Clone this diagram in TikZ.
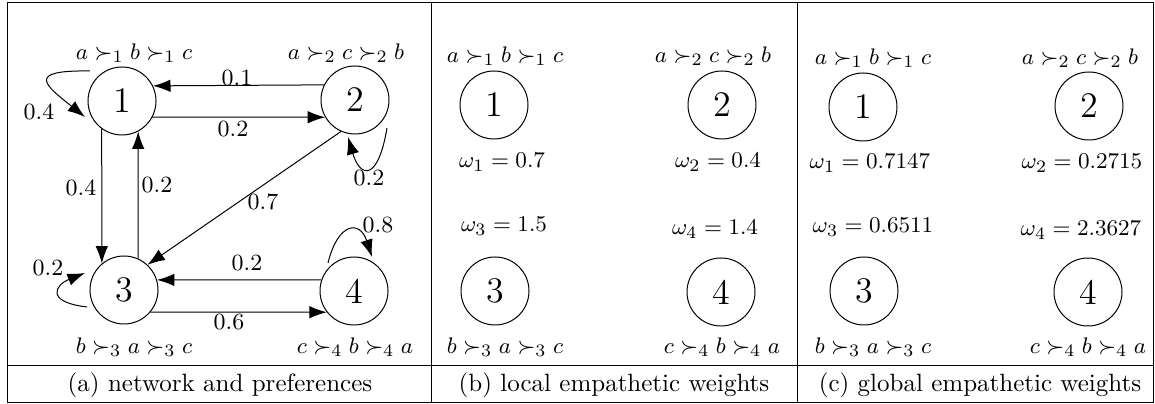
\documentclass[tikz,border=0pt]{standalone}
\usetikzlibrary{arrows.meta,calc}
\begin{document}
\begin{tikzpicture}[x=0.40pt,y=-0.40pt,
  vert/.style={circle,draw,line width=0.4pt,minimum size=27.2pt,inner sep=0pt,font=\Large},
  pref/.style={font=\fontsize{9.3}{11}\selectfont,inner sep=0pt},
  lbl/.style={font=\fontsize{9.3}{11}\selectfont,inner sep=0pt},
  captext/.style={font=\normalsize,inner sep=0pt},
  arr/.style={-{Latex[length=7pt,width=5pt]},line width=0.4pt},
  tablerule/.style={line width=0.4pt}]
\useasboundingbox (0,0) rectangle (1155,404);
% table
\draw[tablerule] (7.5,2.5) rectangle (1153.5,402.5);
\draw[tablerule] (7.5,366) -- (1153.5,366);
\draw[tablerule] (431,2.5) -- (431,402.5);
\draw[tablerule] (797,2.5) -- (797,402.5);
% ---------- panel (a)
\node[vert] (a1) at (122,101) {1};
\node[vert] (a2) at (355,100) {2};
\node[vert] (a3) at (124,290) {3};
\node[vert] (a4) at (354,291) {4};
\node[pref] (pa1) at (134,53) {$a\succ_1 b\succ_1 c$};
\node[pref] (pa2) at (346,53) {$a\succ_2 c\succ_2 b$};
\node[pref] (pa3) at (134,347) {$b\succ_3 a\succ_3 c$};
\node[pref] (pa4) at (355,347) {$c\succ_4 b\succ_4 a$};
\draw[arr] (a2.154) -- (a1.26);
\draw[arr] (a1.-28) -- (a2.-150);
\draw[arr] (a1.234) -- (a3.130);
\draw[arr] (a3.66) -- (a1.-62);
\draw[arr] (a2.246) -- (a3.47);
\draw[arr] (a4.161) -- (a3.17);
\draw[arr] (a3.-40) -- (a4.-142);
\draw[arr] ($(a1)+(-32,-30)$) .. controls ($(a1)+(-97,-31)$) and ($(a1)+(-77,-16)$) .. ($(a1)+(-37,16)$);
\draw[arr] ($(a2)+(32,28)$) .. controls ($(a2)+(23,82)$) and ($(a2)+(5,78)$) .. ($(a2)+(-7,37)$);
\draw[arr] ($(a3)+(-37,17)$) .. controls ($(a3)+(-79,12)$) and ($(a3)+(-69,-5)$) .. ($(a3)+(-39,-17)$);
\draw[arr] ($(a4)+(-26,-28)$) .. controls ($(a4)+(-16,-69)$) and ($(a4)+(6,-71)$) .. ($(a4)+(18,-34)$);
\node[lbl] (w21) at (237,78) {0.1};
\node[lbl] (w12) at (233,129) {0.2};
\node[lbl] (w13) at (81,188) {0.4};
\node[lbl] (w31) at (157,185) {0.2};
\node[lbl] (w23) at (263,202) {0.7};
\node[lbl] (w43) at (247,263) {0.2};
\node[lbl] (w34) at (229,322) {0.6};
\node[lbl] (w11) at (39,112) {0.4};
\node[lbl] (w22) at (369,178) {0.2};
\node[lbl] (w33) at (48,268) {0.2};
\node[lbl] (w44) at (378,225) {0.8};
\node[captext] (capa) at (220,385) {(a) network and preferences};
% ---------- panel (b)
\node[vert] (b1) at (494,105) {1};
\node[vert] (b2) at (722,105) {2};
\node[vert] (b3) at (495,291) {3};
\node[vert] (b4) at (721,292) {4};
\node[pref] (pb1) at (505,56) {$a\succ_1 b\succ_1 c$};
\node[pref] (pb2) at (713,56) {$a\succ_2 c\succ_2 b$};
\node[pref] (pb3) at (505,347) {$b\succ_3 a\succ_3 c$};
\node[pref] (pb4) at (722,347) {$c\succ_4 b\succ_4 a$};
\node[pref] (ob1) at (502,162) {$\omega_1=0.7$};
\node[pref] (ob2) at (718,162) {$\omega_2=0.4$};
\node[pref] (ob3) at (504,226) {$\omega_3=1.5$};
\node[pref] (ob4) at (715,229) {$\omega_4=1.4$};
\node[captext] (capb) at (614,385) {(b) local empathetic weights};
% ---------- panel (c)
\node[vert] (c1) at (863,107) {1};
\node[vert] (c2) at (1089,106) {2};
\node[vert] (c3) at (864,291) {3};
\node[vert] (c4) at (1088,292) {4};
\node[pref] (pc1) at (873,58) {$a\succ_1 b\succ_1 c$};
\node[pref] (pc2) at (1080,58) {$a\succ_2 c\succ_2 b$};
\node[pref] (pc3) at (873,347) {$b\succ_3 a\succ_3 c$};
\node[pref] (pc4) at (1088,347) {$c\succ_4 b\succ_4 a$};
\node[pref] (oc1) at (870,163) {$\omega_1=0.7147$};
\node[pref] (oc2) at (1082,163) {$\omega_2=0.2715$};
\node[pref] (oc3) at (873,227) {$\omega_3=0.6511$};
\node[pref] (oc4) at (1081,230) {$\omega_4=2.3627$};
\node[captext] (capc) at (980,385) {(c) global empathetic weights};
\end{tikzpicture}
\end{document}
